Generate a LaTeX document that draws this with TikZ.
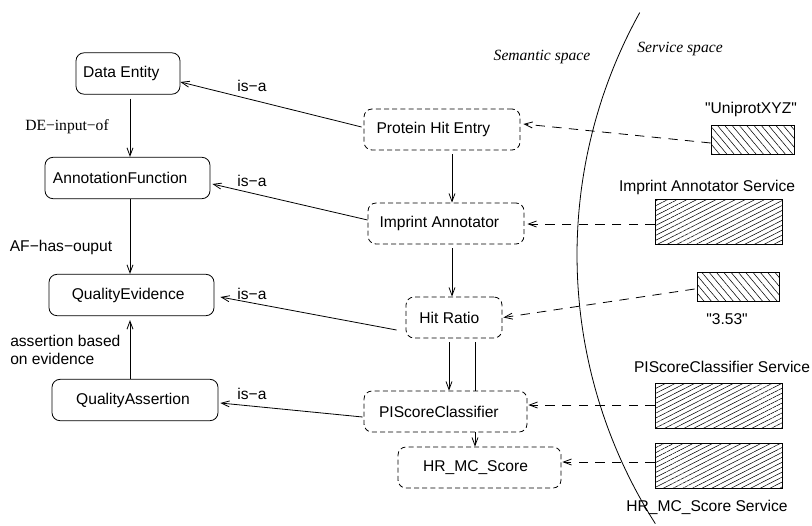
\documentclass[tikz,border=0pt]{standalone}
\usepackage{fontspec}
\setmainfont{Liberation Serif}
\setsansfont{Liberation Sans}
\usetikzlibrary{arrows.meta,patterns.meta,calc}
\begin{document}
\begin{tikzpicture}[x=0.75pt,y=-0.75pt,
  every node/.style={font=\sffamily\fontsize{11.7pt}{14pt}\selectfont, inner sep=0pt},
  lw/.style={line width=0.6pt},
  solidbox/.style={draw, lw, rounded corners=6pt, minimum height=31pt},
  dashbox/.style={draw, lw, rounded corners=6pt, minimum height=30.75pt, dash pattern=on 3.75pt off 2.4pt},
  tshift/.style={execute at begin node={\hspace*{-#1}}},
  arr/.style={lw, -{Straight Barb[length=6pt,width=4.5pt]}},
  darr/.style={arr, dash pattern=on 7pt off 5.5pt},
  hatchA/.style={draw, lw, minimum width=95.25pt, minimum height=33.75pt,
     pattern={Lines[angle=27,distance=3.3pt,line width=0.4pt]}},
  hatchB/.style={draw, lw, minimum height=21.75pt,
     pattern={Lines[angle=-50,distance=4.2pt,line width=0.4pt]}},
  serif/.style={font=\rmfamily\fontsize{11.7pt}{14pt}\selectfont},
  ital/.style={font=\rmfamily\itshape\fontsize{11.7pt}{14pt}\selectfont}
]
\useasboundingbox (0,0) rectangle (812,525);

% left column
\node[solidbox, minimum width=78pt, tshift=10pt] (DE) at (128,73.5) {Data Entity};
\node[solidbox, minimum width=123.75pt, tshift=11pt] (AF) at (127.5,178) {AnnotationFunction};
\node[solidbox, minimum width=123.75pt, tshift=5pt] (QE) at (131.5,295) {QualityEvidence};
\node[solidbox, minimum width=124.5pt, tshift=3pt] (QA) at (135,400) {QualityAssertion};

% middle column
\node[dashbox, minimum width=117pt, tshift=13pt] (PHE) at (442,129.5) {Protein Hit Entry};
\node[dashbox, minimum width=117pt, tshift=10pt] (IA) at (446,223.5) {Imprint Annotator};
\node[dashbox, minimum width=72pt, tshift=7pt] (HR) at (454,317.5) {Hit Ratio};
\node[dashbox, minimum width=122.25pt, tshift=10pt] (PIS) at (445.5,411.5) {PIScoreClassifier};
\node[dashbox, minimum width=122.25pt, tshift=6pt] (HRMC) at (479.5,467.5) {HR\_MC\_Score};

% service boxes
\node[hatchB, minimum width=62.25pt] (uni) at (752.5,139.5) {};
\node[hatchA] (ias) at (718.5,221.5) {};
\node[hatchB, minimum width=61.5pt] (val) at (738,286.5) {};
\node[hatchA] (piss) at (718.5,405.5) {};
\node[hatchA] (hrs) at (718.5,465.5) {};

% service labels
\node (unil) at (751,109) {\textquotedbl UniprotXYZ\textquotedbl};
\node (iasl) at (707,187) {Imprint Annotator Service};
\node (vall) at (727,319) {\textquotedbl 3.53\textquotedbl};
\node (pissl) at (722,367) {PIScoreClassifier Service};
\node (hrsl) at (707,507) {HR\_MC\_Score Service};

% space labels
\node[ital] (sem) at (542,57) {Semantic space};
\node[ital] (ser) at (680,49) {Service space};

% boundary curve
\draw[lw] plot[domain=-29:32.5, samples=80, smooth] ({1077-500*cos(\x)}, {255+500*sin(\x)});

% left-column relation labels
\node[serif] (l1) at (67,127) {DE−input−of};
\node (l2) at (61,247) {AF−has−ouput};
\node[align=left, anchor=west] (l3) at (10,350) {assertion based\\on evidence};

% is-a labels
\node (i1) at (252,86) {is−a};
\node (i2) at (252,181) {is−a};
\node (i3) at (252,294) {is−a};
\node (i4) at (252,394) {is−a};

% vertical helper columns
\coordinate (cL) at (130,0);
\coordinate (cM) at (452,0);
\coordinate (cH1) at (449,0);
\coordinate (cH2) at (475,0);

% left vertical arrows
\draw[arr, shorten <=3pt] (DE.south -| cL) -- (AF.north -| cL);
\draw[arr] (AF.south -| cL) -- (QE.north -| cL);
\draw[arr, shorten >=3pt] (QA.north -| cL) -- (QE.south -| cL);

% middle vertical arrows
\draw[arr, shorten <=3pt] (PHE.south -| cM) -- (IA.north -| cM);
\draw[arr, shorten <=3pt] (IA.south -| cM) -- (HR.north -| cM);
\draw[arr, shorten <=3pt] (HR.south -| cH1) -- (PIS.north -| cH1);
\draw[lw, shorten <=3pt] (HR.south -| cH2) -- (PIS.north -| cH2);
\draw[arr] (PIS.south -| cH2) -- (HRMC.north -| cH2);

% is-a arrows
\draw[arr] ($(PHE.west)+(-2,-2.5)$) -- ($(DE.east)+(0,8.5)$);
\draw[arr] ($(IA.west)+(0,-3.5)$) -- ($(AF.east)+(2,6)$);
\draw[arr] ($(HR.west)+(-9,12.5)$) -- ($(QE.east)+(6,2)$);
\draw[arr] ($(PIS.west)+(-1,5.5)$) -- ($(QA.east)+(2,3)$);

% dashed service arrows
\draw[darr] ($(uni.west)+(0,3.5)$) -- ($(PHE.east)+(3,-5.5)$);
\draw[darr] ($(ias.west)+(0,2.5)$) -- ($(IA.east)+(3,0.5)$);
\draw[darr] ($(val.west)+(-2,2.5)$) -- ($(HR.east)+(1,0)$);
\draw[darr] ($(piss.west)+(0,-0.5)$) -- ($(PIS.east)+(1,-6.5)$);
\draw[darr] ($(hrs.west)+(0,-3.5)$) -- ($(HRMC.east)+(1,-5.5)$);
\end{tikzpicture}
\end{document}
